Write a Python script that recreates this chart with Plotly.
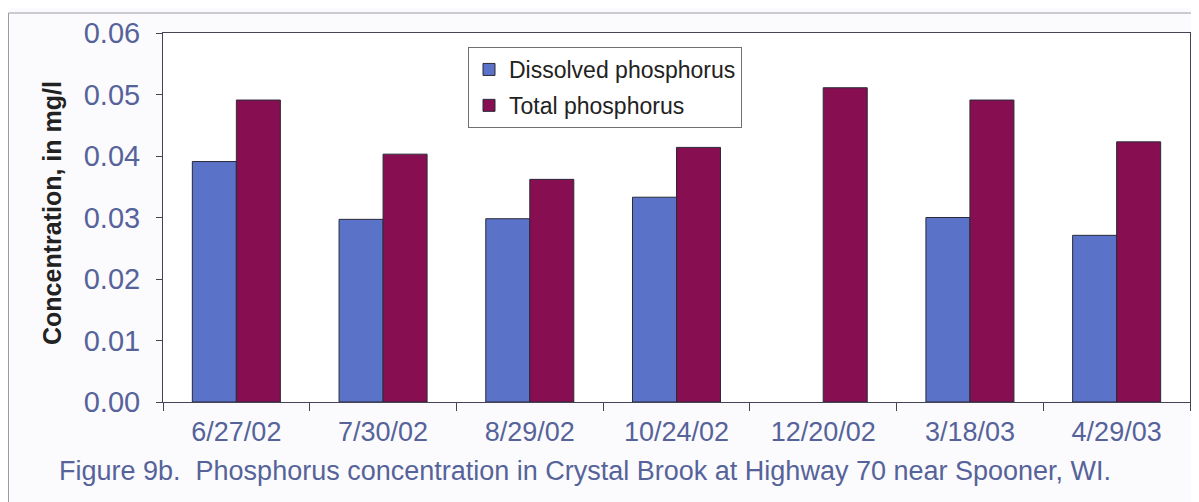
import plotly.graph_objects as go

categories = ["6/27/02", "7/30/02", "8/29/02", "10/24/02", "12/20/02", "3/18/03", "4/29/03"]
dissolved = [0.0391, 0.0297, 0.0298, 0.0333, None, 0.0300, 0.0271]
total = [0.0491, 0.0403, 0.0362, 0.0414, 0.0511, 0.0491, 0.0423]
y_ticks = [0.00, 0.01, 0.02, 0.03, 0.04, 0.05, 0.06]
y_tick_text = ["0.00", "0.01", "0.02", "0.03", "0.04", "0.05", "0.06"]

BLUE = "#5a72c8"
MAROON = "#870e50"
SLATE = "#56639a"
FONT = "Liberation Sans, Arial, sans-serif"

OFF = 8  # page body margin
W, H = 1191, 494
L, T = 163 - OFF, 33 - OFF
PR, PB = 1190 - OFF, 402 - OFF
R, B = W - PR, H - PB
pw, ph = PR - L, PB - T

def px_x(p):
    return (p - OFF - L) / pw

def px_y(p):
    return (PB - (p - OFF)) / ph

fig = go.Figure()
fig.add_trace(go.Bar(x=categories, y=dissolved, name="Dissolved phosphorus",
                     marker=dict(color=BLUE, line=dict(color="#2a2a3a", width=1)),
                     legendgroup="a"))
fig.add_trace(go.Bar(x=categories, y=total, name="Total phosphorus",
                     marker=dict(color=MAROON, line=dict(color="#2a2a3a", width=1)),
                     legendgroup="b"))

fig.update_layout(
    width=W, height=H,
    margin=dict(l=L, r=R, t=T, b=B, autoexpand=False),
    paper_bgcolor="#fbfbfd",
    plot_bgcolor="#ffffff",
    barmode="group",
    bargap=0.4,
    bargroupgap=0,
    font=dict(family=FONT),
    showlegend=True,
    legend=dict(
        x=px_x(468), y=px_y(47), xanchor="left", yanchor="top",
        bgcolor="#ffffff", bordercolor="#707070", borderwidth=1,
        font=dict(size=23, color="#222222", family=FONT),
        tracegroupgap=3,
        itemwidth=30,
    ),
    xaxis=dict(
        type="category",
        showline=True, linecolor="#444455", linewidth=1, mirror=True,
        ticks="outside", ticklen=8, tickcolor="#444455", tickson="boundaries",
        tickfont=dict(size=27, color=SLATE, family=FONT),
        ticklabelstandoff=6,
        showgrid=False,
    ),
    yaxis=dict(
        range=[0, 0.06],
        tickvals=y_ticks, ticktext=y_tick_text,
        showline=True, linecolor="#444455", linewidth=1, mirror=True,
        ticks="outside", ticklen=6, tickcolor="#444455",
        tickfont=dict(size=29, color=SLATE, family=FONT),
        ticklabelstandoff=10,
        showgrid=False, zeroline=False,
    ),
    annotations=[
        dict(text="<b>Concentration, in mg/l</b>", textangle=-90,
             xref="paper", yref="paper", x=px_x(52), y=px_y(213),
             xanchor="center", yanchor="middle", showarrow=False,
             font=dict(size=25, color="#222222", family=FONT)),
        dict(text="Figure 9b.  Phosphorus concentration in Crystal Brook at Highway 70 near Spooner, WI.",
             xref="paper", yref="paper", x=px_x(57), y=px_y(471),
             xanchor="left", yanchor="middle", showarrow=False,
             font=dict(size=27, color=SLATE, family=FONT)),
    ],
    shapes=[
        dict(type="rect", xref="paper", yref="paper",
             x0=px_x(8.5), x1=px_x(1197), y0=px_y(520), y1=px_y(13),
             line=dict(color="#9a9aa5", width=1), fillcolor="rgba(0,0,0,0)", layer="below"),
    ],
)

fig.write_html("out.html")
